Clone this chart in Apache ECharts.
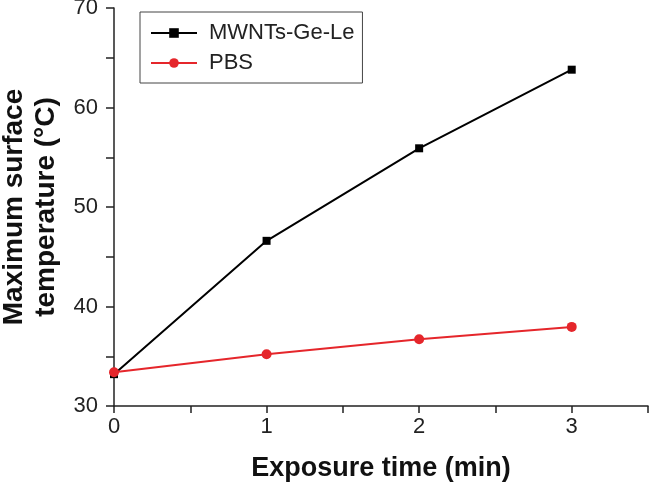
<!DOCTYPE html>
<html><head><meta charset="utf-8">
<script src="https://cdn.jsdelivr.net/npm/echarts@6/dist/echarts.min.js"></script>
<style>html,body{margin:0;padding:0;background:#fff}#c{width:650px;height:482px}</style>
</head><body><div id="c"></div>
<script>
var times = [0, 1, 2, 3];
var mwnt = [33.2, 46.6, 55.9, 63.8];
var pbs = [33.4, 35.2, 36.7, 37.95];
var seriesNames = ['MWNTs-Ge-Le', 'PBS'];
var xTitle = 'Exposure time (min)';
var yTitle = 'Maximum surface\ntemperature (°C)';

var chart = echarts.init(document.getElementById('c'), null, {renderer: 'canvas'});
var font = 'Liberation Sans, Arial, sans-serif';
chart.setOption({
  animation: false,
  textStyle: {fontFamily: font},
  grid: {left: 114, right: 2, top: 8, bottom: 76, containLabel: false, outerBoundsMode: 'none'},
  legend: {
    orient: 'vertical', left: 140, top: 12,
    data: seriesNames,
    borderColor: '#444', borderWidth: 1,
    padding: [10, 8, 9, 10],
    itemWidth: 46, itemHeight: 12, itemGap: 8,
    textStyle: {fontSize: 22, color: '#222', fontFamily: font, padding: [0, 0, 0, 7]}
  },
  xAxis: {
    type: 'value', min: 0, max: 3.5, interval: 0.5,
    name: xTitle, nameLocation: 'middle', nameGap: 49,
    nameTextStyle: {fontSize: 27, fontWeight: 'bold', color: '#111', fontFamily: font},
    axisLine: {onZero: false, lineStyle: {color: '#222', width: 1.5}},
    axisTick: {length: 7, lineStyle: {color: '#222', width: 1.5}},
    axisLabel: {fontSize: 22, color: '#222', margin: 10,
      formatter: function(v){ return (Math.abs(v - Math.round(v)) < 1e-6) && v <= 3 ? String(Math.round(v)) : ''; }},
    splitLine: {show: false}
  },
  yAxis: {
    type: 'value', min: 30, max: 70, interval: 5,
    name: yTitle, nameLocation: 'middle', nameGap: 50, nameRotate: 90,
    nameTextStyle: {fontSize: 28, fontWeight: 'bold', color: '#111', lineHeight: 32, fontFamily: font},
    axisLine: {show: true, onZero: false, lineStyle: {color: '#222', width: 1.5}},
    axisTick: {show: true, length: 8, lineStyle: {color: '#222', width: 1.5}},
    axisLabel: {fontSize: 22, color: '#222', margin: 16,
      formatter: function(v){ return v % 10 === 0 ? String(v) : ''; }},
    splitLine: {show: false}
  },
  series: [
    {name: seriesNames[0], type: 'line', data: times.map(function(t,i){return [t, mwnt[i]];}),
     symbol: 'rect', symbolSize: 8, itemStyle: {color: '#000'}, lineStyle: {color: '#000', width: 2}, z: 2},
    {name: seriesNames[1], type: 'line', data: times.map(function(t,i){return [t, pbs[i]];}),
     symbol: 'circle', symbolSize: 10, itemStyle: {color: '#e5262b'}, lineStyle: {color: '#e5262b', width: 2}, z: 3}
  ]
});
</script></body></html>
